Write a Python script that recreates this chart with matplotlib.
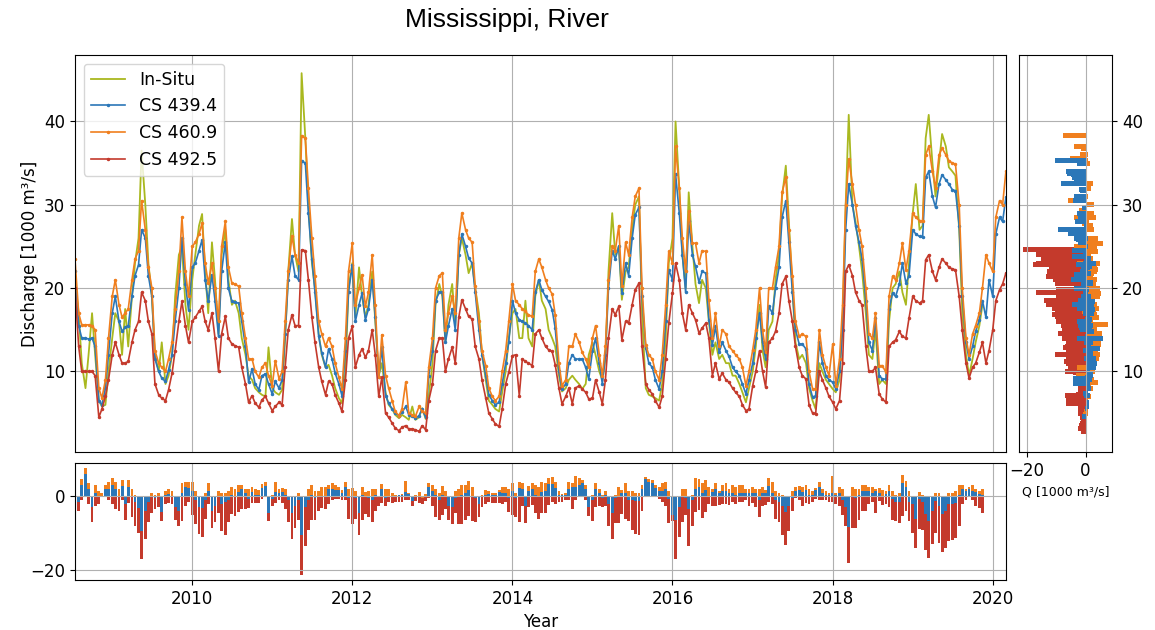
import numpy as np
import pandas as pd
import matplotlib
matplotlib.use("Agg")
import matplotlib.pyplot as plt

# semi-monthly samples, 2008-07-15 .. 2020-03-01
dates = pd.date_range("2008-07-15", "2020-03-01", freq="SMS")

nan = np.nan
insitu = [
    21, 17, 11, 8, 12, 17, 12, 6.5, 5.8, 6, 10,  # 2008
    14, 17, 16, 12, 17.5, 13, 19, 23, 26, 36.5, 30, 23, 19, 12, 10, 13.5, 8.5, 9.5, 12, 19, 24, 25, 18, 15,
    21, 24, 27.5, 28.9, 22, 17, 25.5, 21, 14.5, 24, 27, 21, 18, 18.5, 17, 14, 12, 9.5, 9, 8, 7.5, 7.2, 7, 12.9,
    8, 7.5, 7.2, 7.8, 14, 22, 28.3, 24, 22, 45.8, 38, 30, 23, 20, 14.5, 12, 10.5, 10.8, 9.5, 8, 6.8, 6.2, 10, 20,
    23, 16.5, 22.5, 19, 16.5, 18, 22, 16, 9.5, 11, 7.5, 6, 5.5, 4.8, 4.4, 4.8, 4.5, 4.2, 5.8, 4.2, 4.5, 5.6, 4.3, 7,
    11, 18, 20.5, 19, 13.5, 18, 20.5, 15.5, 24, 26, 24, 21.8, 23, 20, 17, 12, 9, 6.5, 6, 5.5, 5.2, 7.5, 10, 14,
    17, 17.5, 14, 14, 18.5, 14, 13, 19, 21, 18.5, 17.5, 15, 14, 13, 9.5, 7.6, 8, 9, 9.5, 9, 8.5, 7.9, 8.5, 12,
    13.5, 12, 10, 9, 11.5, 22, 29, 24, 25, 18.6, 22, 22.5, 27, 30, 31, 17, 8, 7.2, 7, 6.8, 6.5, 8.5, 14, 23,
    26, 40, 32, 24, 20, 31.5, 25, 20.5, 18.2, 21, 20, 16, 12, 13.5, 11.5, 12, 11, 11, 9.5, 9.5, 8.5, 7.5, 6.3, 8,
    10, 13, 18, 12.5, 10.5, 15, 16, 21, 24, 31, 34.7, 28, 20, 13.5, 11.5, 12, 11, 8, 6.5, 5.5, 11, 10, 9, 8.5,
    7.9, 7.5, 9, 16, 30, 40.8, 30, 28, 25, 22, 17, 12, 11.5, 15, 8.5, 9, 8.5, 16, 20, 20.5, 22, 19.5, 18, 23,
    29, 32.5, 27, 27.5, 38, 40.8, 35, 31, 35, 38.5, 37, 34.5, 34, 33.5, 27, 17, 12, 9.5, 11.5, 13.5, 15.5, 18, nan, nan,
    nan, nan, nan, nan, nan,  # 2020
]
cs439 = [
    22, 15.5, 14, 14, 13.9, 14, 13, 6.5, 6, 8, 12,
    17, 19, 16, 14.8, 15.3, 15.5, 19, 21.5, 22.8, 27, 26, 21.5, 19, 11.5, 10, 9.2, 8.8, 10.2, 12, 16, 20, 26, 20.5, 17.4,
    22.5, 23, 24.5, 25.8, 21, 18.4, 21.6, 18.5, 14.2, 22, 25.5, 20, 18.4, 18.3, 18.2, 16, 13, 8.7, 10.3, 8.5, 7.8, 9.5, 9.7, 8.5,
    7.3, 8.8, 8, 9, 14.5, 21, 23.8, 21.5, 21, 35.3, 35, 29, 23.5, 19.5, 14.2, 12.2, 10.5, 12.7, 11.5, 9.8, 8.5, 7.1, 12.5, 19.5,
    22.8, 16, 18, 19.4, 16.2, 17.5, 21, 16.5, 9.3, 12.9, 7.1, 6.2, 5.5, 5, 4.7, 5.1, 5.8, 4.8, 4.6, 4.4, 4.7, 5.5, 4.5, 9.5,
    12.5, 18.5, 19.5, 19.5, 13.5, 15.5, 17.5, 15, 24, 26.5, 25, 23.6, 23, 19.5, 15, 12, 9.5, 7.2, 6.5, 6, 6.3, 8.5, 11, 13.5,
    18.5, 17, 16.2, 16, 15.8, 15.5, 15, 19.5, 21, 19.8, 19, 18.4, 17.4, 15.2, 10, 7.9, 8.5, 11, 12, 11.5, 11.5, 11.5, 10.5, 9.1,
    12.5, 14, 11, 8.5, 12, 20, 24.5, 23.5, 25, 19.4, 23, 21.5, 26, 28.8, 29.7, 19, 12.8, 11, 10.5, 9, 7.9, 10, 16, 22.2,
    21, 33.7, 29, 24, 19.5, 28, 24, 22.6, 20.7, 22, 21.8, 16.2, 13.2, 15.4, 12.3, 13.5, 12.5, 11.8, 10.5, 10, 9.5, 8.5, 7.3, 9,
    11, 14, 17, 13.5, 11.5, 17.8, 17, 20, 22.5, 28.5, 30.5, 25.5, 19.5, 15, 13.3, 13.3, 12.7, 8.5, 6.9, 7.1, 13.5, 11, 9.5, 9,
    8.7, 7.9, 10, 15, 27, 32.5, 30, 27.5, 25.5, 23.5, 18.5, 13.5, 12.5, 16.4, 9.5, 9.1, 9.1, 17.5, 19.4, 19, 20.5, 23, 20.6, 21.5,
    27, 26.5, 26.2, 26.1, 33.3, 34, 31, 29.7, 32.5, 33.6, 33, 32.5, 31.8, 31.7, 27.5, 19, 13.5, 11.5, 13, 14.8, 16.2, 18.5, 16.5, 21,
    19, 26.5, 28.5, 28, 30.9,
]
cs461 = [
    23.5, 17, 15.6, 15.6, 15.6, 15.5, 15, 8, 6.8, 9, 14,
    19, 21, 18, 16.5, 17, 17.5, 21, 23.5, 24.5, 30.5, 27, 22.5, 20, 12.5, 11, 10.5, 10, 11.5, 13.5, 17.5, 22, 28.5, 22, 19,
    25, 25.5, 26.5, 27.8, 23, 20.6, 23, 20, 16, 25, 28, 22.5, 20.6, 20.5, 20.2, 17, 14, 11.5, 11.5, 10, 9.3, 10.5, 11, 9.5,
    8.3, 11.3, 9.1, 10, 16, 22, 26.3, 24, 23, 38.3, 38, 32, 26, 21.5, 16, 14.5, 13, 14, 13, 11, 9.3, 7.9, 14, 22,
    25.4, 18, 20, 21.6, 17.8, 19.5, 24, 18, 9.3, 14.4, 9.5, 8, 6.5, 5.2, 4.7, 5.5, 8.7, 5, 4.8, 4.6, 5.8, 5.2, 5, 10.5,
    14, 20, 21.5, 21.8, 15, 17, 19, 17, 26, 29, 27, 26, 25.5, 20.2, 16, 12.5, 10.7, 8, 7, 6.5, 7, 10, 12.5, 16,
    20.5, 18.5, 18, 17.5, 17.2, 16.8, 16.6, 22, 23.5, 22.5, 21, 20, 19.3, 16.8, 11, 8.3, 9, 13, 13, 14.5, 13.5, 12.3, 11.5, 10.5,
    14, 15.5, 12, 9.5, 13, 21, 25, 24.5, 27.5, 20.2, 25.5, 24, 28.5, 31, 32, 20, 13.2, 12, 11.5, 10, 9, 12, 18, 24.4,
    23, 37, 32, 26, 22, 29.3, 25.4, 25.4, 23, 24.5, 24.4, 18.6, 14, 17, 13, 15, 14.5, 13, 12.5, 12, 11.5, 10.5, 8.3, 10,
    12.6, 15, 20, 15, 12.3, 20, 20, 22.5, 25, 31.5, 33.3, 27, 21.5, 16, 14.2, 14.5, 14.2, 10, 7.9, 7.9, 15, 12, 10.5, 9.5,
    13.3, 8.3, 11.5, 18, 30, 35.5, 32.5, 30, 27, 25, 20, 14.5, 14, 17, 10.7, 10.7, 9.9, 19, 21.4, 21, 23, 25.4, 22.2, 24.5,
    29, 28.5, 28.1, 28, 36, 37, 34, 32, 36, 36.8, 36, 35.3, 35, 34.9, 30, 20, 14, 12, 14.5, 15.5, 17, 20, 24, 23,
    22, 28.5, 30.5, 30, 34,
]
cs492 = [
    20, 13, 10, 10, 10, 10, 9.5, 4.5, 5.5, 7, 9,
    12, 13.5, 12, 11, 11, 11.2, 13.5, 15, 16, 19.5, 18.5, 16, 14.5, 8.5, 7.2, 6.8, 6.5, 7.8, 9.8, 12.5, 16, 18.4, 15.5, 13.5,
    16, 16.5, 17.2, 17.8, 16, 15, 17, 14, 10, 14.5, 16.6, 14, 13.3, 13.1, 12.9, 10.5, 8.5, 6.3, 7.1, 6.2, 5.7, 6.6, 7, 6.2,
    5.3, 5.8, 6.3, 6, 10.5, 15, 16.8, 15.5, 15.5, 24.6, 24.5, 21, 16.5, 13.5, 10.5, 8.8, 7.2, 8.8, 8.5, 7.2, 6.2, 5.2, 9, 14,
    15.4, 10.5, 12, 12.7, 11.7, 12.5, 15, 12, 7, 9.3, 5, 4.5, 3.8, 3.2, 2.9, 3.3, 3.5, 3.1, 3.1, 3.0, 2.8, 3.5, 3.0, 6.5,
    8.5, 12.5, 14, 14, 10, 11.5, 12.9, 11, 16.5, 18.6, 17.5, 16.6, 16.3, 13, 11.5, 9, 6.8, 5, 4.3, 3.7, 3.4, 5.5, 8.5, 9.9,
    11.9, 12, 7.1, 11.5, 11.2, 11, 10.7, 14.5, 15, 14, 13, 12.6, 12.4, 10.8, 8, 6.1, 7, 8, 6.1, 8, 8.3, 7.9, 7.5, 6.7,
    6.8, 9, 7.5, 6.1, 9, 14, 17.5, 16.8, 17.8, 13.8, 16, 15.8, 18, 19.8, 20.6, 13, 8.5, 7.8, 7.3, 6.5, 5.7, 7, 11.5, 15.8,
    19.4, 23, 21, 17, 15, 18, 17, 16.2, 14.6, 15.2, 15.8, 14, 9.5, 11, 9.1, 9.8, 9, 8.7, 8, 7.5, 7, 6, 5.3, 5.5,
    8.3, 10, 12.5, 10, 8.1, 13.5, 14, 14.8, 17, 20.5, 21.4, 18.5, 16, 13, 10.5, 9.5, 9.1, 6, 5, 4.9, 10, 9, 8, 7,
    6.3, 5.5, 6.5, 11, 22, 22.8, 21.5, 19.5, 18.5, 18, 13, 10, 10, 10.5, 7.3, 6.7, 6.3, 13, 13.5, 13.8, 14.8, 14.2, 14, 16.4,
    19, 18.5, 18.2, 18.5, 23.4, 24, 22, 21, 22.5, 23.5, 23, 22.5, 22.3, 22.2, 19, 15, 11, 9.2, 10.5, 11, 12.3, 13.5, 11, 12.5,
    15, 18.5, 19.8, 20.5, 21.8,
]

labels = ["In-Situ", "CS 439.4", "CS 460.9", "CS 492.5"]
colors = ["#a9b81f", "#2b77b8", "#f07f1e", "#c43a2c"]

insitu = np.array(insitu, dtype=float)
series = [np.array(s, dtype=float) for s in (cs439, cs461, cs492)]

fig = plt.figure(figsize=(11.55, 6.3), dpi=100)
ax = fig.add_axes([0.0649, 0.2825, 0.806, 0.630])
axr = fig.add_axes([0.8823, 0.2825, 0.0805, 0.630], sharey=ax)
axb = fig.add_axes([0.0649, 0.0794, 0.806, 0.1857], sharex=ax)

ax.plot(dates, insitu, color=colors[0], lw=1.3, label=labels[0])
for s, c, l in zip(series, colors[1:], labels[1:]):
    ax.plot(dates, s, color=c, lw=1.2, marker=".", ms=3, label=l)

ax.set_xlim(dates[0], dates[-1])
ax.set_ylabel("Discharge [1000 m³/s]", fontsize=12)
ax.tick_params(labelsize=12, labelbottom=False, bottom=False)
ax.set_yticks([10, 20, 30, 40])
ax.grid(True)
ax.legend(loc="upper left", fontsize=12.5)

# differences to in-situ, red first so blue sits on top
order = [2, 1, 0]
for i in order:
    d = series[i] - insitu
    axb.bar(dates, d, width=13, color=colors[i + 1], linewidth=0)
    axr.barh(series[i], d, height=0.6, color=colors[i + 1], linewidth=0)

axb.set_yticks([-20, 0])
axb.tick_params(labelsize=12)
axb.set_xlabel("Year", fontsize=12)
axb.grid(True)

lo, hi = axb.get_ylim()
axr.set_xlim(lo, hi)
axr.set_xticks([-20, 0])
axr.yaxis.tick_right()
axr.tick_params(labelsize=12)
axr.set_xlabel("Q [1000 m³/s]", fontsize=9)
axr.grid(True)

fig.text(0.439, 0.968, "Mississippi, River", ha="center", va="center",
         fontsize=19, family=["Liberation Sans", "DejaVu Sans"])

fig.savefig("out.png", dpi=100)
